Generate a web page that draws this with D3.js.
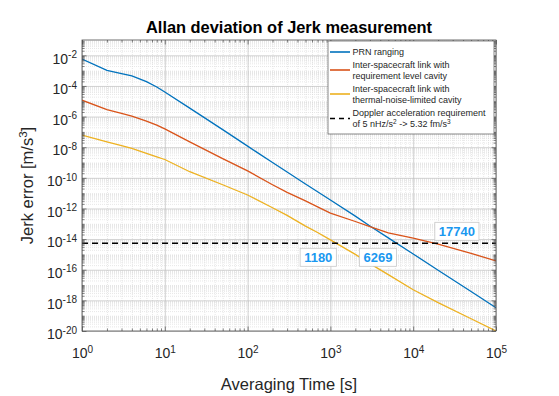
<!DOCTYPE html>
<html>
<head>
<meta charset="utf-8">
<script src="https://cdn.jsdelivr.net/npm/d3@7"></script>
<style>
  body { margin: 0; background: #fff; }
  svg { display: block; font-family: "Liberation Sans", Arial, sans-serif; }
</style>
</head>
<body>
<div id="chart"></div>
<script>
// averaging times [s]
const tau = [1, 2, 3, 4, 6, 8, 10, 20, 50, 100, 200, 300, 500, 700, 1000, 2000, 3000, 5000, 10000, 20000, 50000, 100000];

// jerk ADEV [m/s^3]
const prnRanging = [5.62e-3, 1.05e-3, 6.31e-4, 4.47e-4, 1.91e-4, 8.51e-5, 3.98e-5, 3.55e-6, 1.41e-7, 1.17e-8,
  1.0e-9, 2.40e-10, 3.98e-11, 1.23e-11, 3.55e-12, 3.16e-13, 7.24e-14, 1.20e-14, 1.07e-15, 9.33e-17, 3.80e-18, 3.31e-19];
const reqCavity = [1.17e-5, 2.88e-6, 1.62e-6, 1.07e-6, 5.01e-7, 2.75e-7, 1.58e-7, 2.24e-8, 1.78e-9, 2.82e-10,
  3.55e-11, 1.12e-11, 3.16e-12, 1.26e-12, 5.01e-13, 1.41e-13, 6.46e-14, 2.51e-14, 1.15e-14, 4.68e-15, 1.17e-15, 3.80e-16];
const thermalCavity = [6.17e-8, 2.24e-8, 1.26e-8, 8.32e-9, 3.98e-9, 2.34e-9, 1.58e-9, 2.51e-10, 3.55e-11, 7.59e-12,
  1.12e-12, 3.55e-13, 7.08e-14, 2.69e-14, 8.91e-15, 1.0e-15, 2.51e-16, 4.79e-17, 4.90e-18, 7.08e-19, 6.31e-20, 1.0e-20];

// doppler requirement and the crossings marked on it
const dopplerReq = 5.32e-15;
const crossTau = [1180, 6269, 17740];
const crossText = ["1180", "6269", "17740"];

const xTickExp = [0, 1, 2, 3, 4, 5];
const yTickExp = [-20, -18, -16, -14, -12, -10, -8, -6, -4, -2];

const legendNames = [
  ["PRN ranging"],
  ["Inter-spacecraft link with", "requirement level cavity"],
  ["Inter-spacecraft link with", "thermal-noise-limited cavity"],
  ["Doppler acceleration requirement", "of 5 nHz/s\u00b2 -> 5.32 fm/s\u00b3"]
];

const W = 559, H = 396;
const padL = 82, padR = 496, padT = 40, padB = 331;
const colors = ["#0072BD", "#D95319", "#EDB120"];

const svg = d3.select("#chart").append("svg")
    .attr("width", W)
    .attr("height", H)
    .attr("viewBox", [0, 0, W, H]);

svg.append("rect").attr("width", W).attr("height", H).attr("fill", "#fff");

const x = d3.scaleLog().domain([1, 1e5]).range([padL, padR]);
const y = d3.scaleLog().domain([1e-20, 1e-1]).range([padB, padT]);

// minor values
const xMinor = [];
for (let d = 0; d < 5; d++) for (let k = 2; k <= 9; k++) xMinor.push(k * Math.pow(10, d));
const yMinor = [];
for (let d = -20; d < -1; d++) for (let k = 1; k <= 9; k++) {
    if (k === 1 && d % 2 === 0) continue;
    yMinor.push(k * Math.pow(10, d));
}
const xMajor = xTickExp.map(e => Math.pow(10, e));
const yMajor = yTickExp.map(e => Math.pow(10, e));

// grid lines
function styleGrid(g, col, dash, w) {
    g.select(".domain").remove();
    g.selectAll("line").attr("stroke", col).attr("stroke-width", w).attr("stroke-dasharray", dash);
}
svg.append("g").attr("transform", `translate(0,${padB})`)
    .call(d3.axisBottom(x).tickValues(xMinor).tickSize(-(padB - padT)).tickFormat(""))
    .call(g => styleGrid(g, "#d6d6d6", "1,1", 0.6));
svg.append("g").attr("transform", `translate(${padL},0)`)
    .call(d3.axisLeft(y).tickValues(yMinor).tickSize(-(padR - padL)).tickFormat(""))
    .call(g => styleGrid(g, "#d6d6d6", "1,1", 0.6));
svg.append("g").attr("transform", `translate(0,${padB})`)
    .call(d3.axisBottom(x).tickValues(xMajor).tickSize(-(padB - padT)).tickFormat(""))
    .call(g => styleGrid(g, "#bdbdbd", null, 0.7));
svg.append("g").attr("transform", `translate(${padL},0)`)
    .call(d3.axisLeft(y).tickValues(yMajor).tickSize(-(padR - padL)).tickFormat(""))
    .call(g => styleGrid(g, "#bdbdbd", null, 0.7));

// series
const line = d3.line().x(d => x(d[0])).y(d => y(d[1]));
svg.append("clipPath").attr("id", "clip")
    .append("rect").attr("x", padL).attr("y", padT).attr("width", padR - padL).attr("height", padB - padT);

[prnRanging, reqCavity, thermalCavity].forEach((vals, i) => {
    svg.append("path")
        .datum(tau.map((t, j) => [t, vals[j]]))
        .attr("d", line)
        .attr("fill", "none")
        .attr("stroke", colors[i])
        .attr("stroke-width", 1.3)
        .attr("clip-path", "url(#clip)");
});

svg.append("line")
    .attr("x1", x(1)).attr("x2", x(1e5))
    .attr("y1", y(dopplerReq)).attr("y2", y(dopplerReq))
    .attr("stroke", "#000")
    .attr("stroke-width", 1.4)
    .attr("stroke-dasharray", "6,4");

// axes with inward ticks (matlab style)
function styleAxis(g) {
    g.select(".domain").remove();
    g.selectAll("line").attr("stroke", "#4d4d4d").attr("stroke-width", 0.7);
}
svg.append("g").attr("transform", `translate(0,${padB})`)
    .call(d3.axisBottom(x).tickValues(xMinor).tickSize(-2.5).tickFormat("")).call(styleAxis);
svg.append("g").attr("transform", `translate(0,${padT})`)
    .call(d3.axisTop(x).tickValues(xMinor).tickSize(-2.5).tickFormat("")).call(styleAxis);
svg.append("g").attr("transform", `translate(${padL},0)`)
    .call(d3.axisLeft(y).tickValues(yMinor).tickSize(-2.5).tickFormat("")).call(styleAxis);
svg.append("g").attr("transform", `translate(${padR},0)`)
    .call(d3.axisRight(y).tickValues(yMinor).tickSize(-2.5).tickFormat("")).call(styleAxis);
svg.append("g").attr("transform", `translate(0,${padT})`)
    .call(d3.axisTop(x).tickValues(xMajor).tickSize(-4.5).tickFormat("")).call(styleAxis);
svg.append("g").attr("transform", `translate(${padR},0)`)
    .call(d3.axisRight(y).tickValues(yMajor).tickSize(-4.5).tickFormat("")).call(styleAxis);

const xAxis = svg.append("g").attr("transform", `translate(0,${padB})`)
    .call(d3.axisBottom(x).tickValues(xMajor).tickSize(-4.5).tickPadding(14).tickFormat(""))
    .call(styleAxis);
const yAxis = svg.append("g").attr("transform", `translate(${padL},0)`)
    .call(d3.axisLeft(y).tickValues(yMajor).tickSize(-4.5).tickPadding(5).tickFormat(""))
    .call(styleAxis);

function powerLabel(sel, expOf) {
    sel.selectAll("text").each(function(d) {
        const t = d3.select(this).attr("fill", "#262626").style("font-size", "14px");
        t.append("tspan").text("10");
        t.append("tspan").attr("dy", "-0.55em").style("font-size", "10px").text(expOf(d));
    });
}
xAxis.selectAll(".tick text").attr("y", 27).attr("dy", 0);
powerLabel(xAxis, d => Math.round(Math.log10(d)));
yAxis.selectAll(".tick text").attr("dy", "0.55em");
powerLabel(yAxis, d => Math.round(Math.log10(d)));

svg.append("rect")
    .attr("x", padL).attr("y", padT)
    .attr("width", padR - padL).attr("height", padB - padT)
    .attr("fill", "none")
    .attr("stroke", "#4d4d4d")
    .attr("stroke-width", 0.8);

// crossing datatips
const tipPlace = ["below-left", "below-left", "above-right"];
crossTau.forEach((t, i) => {
    const px = x(t), py = y(dopplerReq);
    const g = svg.append("g");
    const txt = g.append("text")
        .attr("font-weight", "bold")
        .attr("font-size", 13)
        .attr("fill", "#1a98f0")
        .text(crossText[i]);
    const w = txt.node().getComputedTextLength() + 8, h = 18;
    const bx = tipPlace[i] === "below-left" ? px - w : px + 1;
    const by = tipPlace[i] === "below-left" ? py + 5 : py - h - 3;
    g.insert("rect", "text")
        .attr("x", bx).attr("y", by).attr("width", w).attr("height", h)
        .attr("fill", "#fff").attr("stroke", "#c8c8c8").attr("stroke-width", 0.8);
    txt.attr("x", bx + 4).attr("y", by + 14);
});

// legend
const lg = svg.append("g").attr("font-size", 9).attr("fill", "#262626");
lg.append("rect")
    .attr("x", 328).attr("y", 41).attr("width", 166).attr("height", 93)
    .attr("fill", "#fff").attr("stroke", "#555").attr("stroke-width", 0.7);
const rowY = [52, 70, 94, 118.5];
legendNames.forEach((names, i) => {
    const cy = rowY[i];
    lg.append("line")
        .attr("x1", 330).attr("x2", 350).attr("y1", cy).attr("y2", cy)
        .attr("stroke", i < 3 ? colors[i] : "#000")
        .attr("stroke-width", i < 3 ? 1.6 : 1.4)
        .attr("stroke-dasharray", i < 3 ? null : "5,4");
    names.forEach((s, k) => {
        const ty = cy + 3.2 + (names.length === 1 ? 0 : (k === 0 ? -5.5 : 5.5));
        const t = lg.append("text").attr("x", 352.5).attr("y", ty);
        if (i === 3 && k === 1) {
            t.append("tspan").text("of 5 nHz/s");
            t.append("tspan").attr("dy", -3.5).attr("font-size", 6.5).text("2");
            t.append("tspan").attr("dy", 3.5).text(" -> 5.32 fm/s");
            t.append("tspan").attr("dy", -3.5).attr("font-size", 6.5).text("3");
        } else {
            t.text(s);
        }
    });
});

// titles
svg.append("text")
    .attr("x", (padL + padR) / 2).attr("y", 33)
    .attr("text-anchor", "middle")
    .attr("font-weight", "bold")
    .attr("font-size", 16.4)
    .attr("fill", "#000")
    .text("Allan deviation of Jerk measurement");

svg.append("text")
    .attr("x", (padL + padR) / 2).attr("y", 390)
    .attr("text-anchor", "middle")
    .attr("font-size", 16.5)
    .attr("fill", "#262626")
    .text("Averaging Time [s]");

const yl = svg.append("text")
    .attr("transform", `translate(33,${(padT + padB) / 2}) rotate(-90)`)
    .attr("text-anchor", "middle")
    .attr("font-size", 16.5)
    .attr("fill", "#262626");
yl.append("tspan").text("Jerk error [m/s");
yl.append("tspan").attr("dy", -6).attr("font-size", 11.5).text("3");
yl.append("tspan").attr("dy", 6).text("]");
</script>
</body>
</html>
